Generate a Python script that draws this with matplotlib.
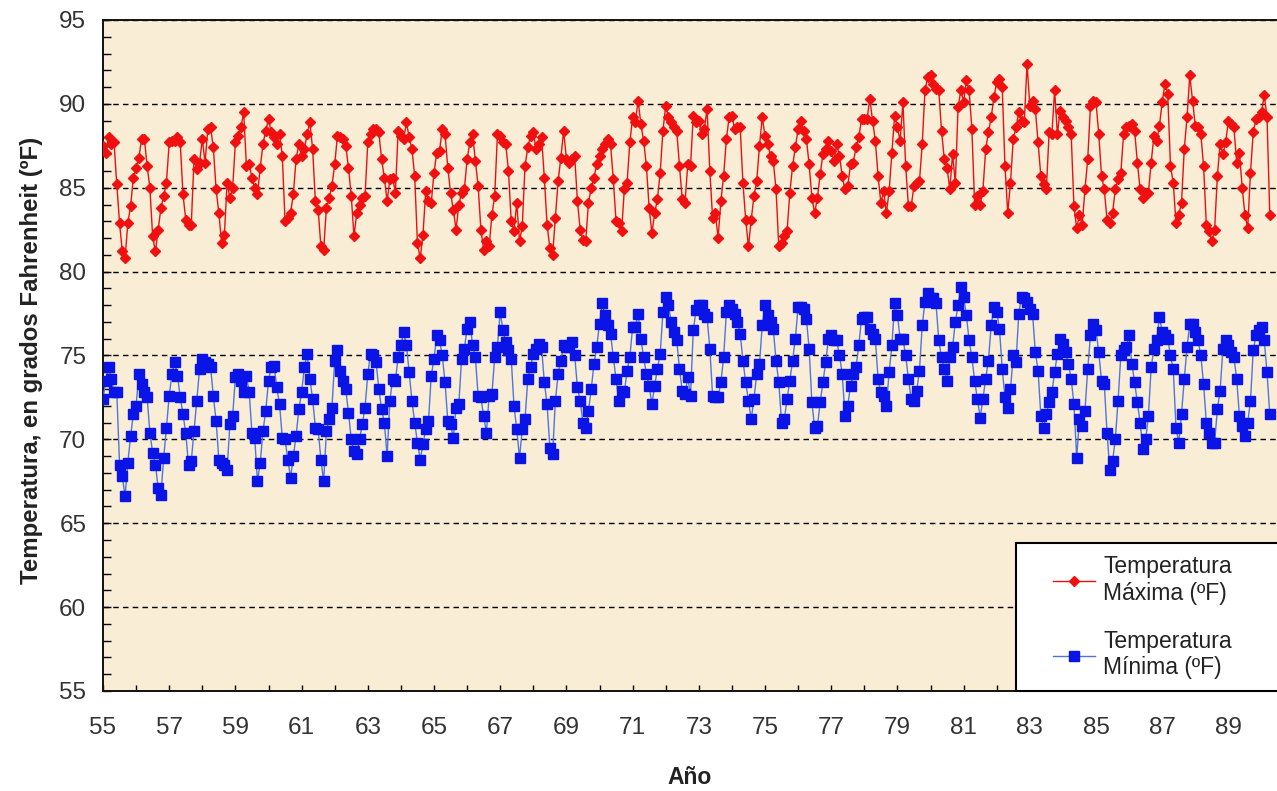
import numpy as np
import matplotlib
matplotlib.use('Agg')
import matplotlib.pyplot as plt
from matplotlib.ticker import MultipleLocator
from matplotlib.patches import Rectangle

plt.rcParams['font.family'] = ['Liberation Sans', 'DejaVu Sans']

# Temperaturas medias mensuales desde enero de 1955 (una fila por año)
t_max = [
    87.5, 87.1, 88.0, 87.6, 87.7, 85.2, 82.9, 81.2, 80.8, 82.9, 83.9, 85.6,
    86.2, 86.8, 87.9, 87.9, 86.3, 85.0, 82.1, 81.2, 82.5, 83.8, 84.5, 85.3,
    87.7, 87.8, 87.8, 88.0, 87.7, 84.6, 83.1, 82.8, 82.8, 86.7, 86.1, 86.5,
    87.9, 86.5, 88.5, 88.6, 87.4, 84.9, 83.5, 81.7, 82.2, 85.3, 84.4, 85.0,
    87.7, 88.1, 88.6, 89.5, 86.3, 86.4, 85.6, 85.0, 84.6, 86.2, 87.6, 88.4,
    89.1, 88.3, 88.0, 87.6, 88.2, 86.9, 83.0, 83.2, 83.5, 84.6, 86.7, 87.6,
    86.9, 87.3, 88.2, 88.9, 87.3, 84.2, 83.7, 81.5, 81.3, 83.8, 84.4, 85.1,
    86.4, 88.1, 88.0, 87.9, 87.5, 86.2, 84.5, 82.1, 83.5, 84.0, 84.4, 84.5,
    87.7, 88.2, 88.5, 88.5, 88.3, 86.7, 85.6, 84.2, 85.5, 85.6, 84.7, 88.4,
    88.1, 87.9, 88.9, 88.0, 87.3, 85.7, 81.7, 80.8, 82.2, 84.8, 84.2, 84.1,
    85.9, 87.1, 87.2, 88.5, 88.2, 86.2, 84.7, 83.7, 82.5, 84.0, 84.7, 84.9,
    86.7, 87.7, 88.2, 86.6, 85.1, 82.5, 81.3, 81.8, 81.5, 83.4, 84.5, 88.2,
    88.1, 87.7, 87.6, 86.0, 83.0, 82.4, 84.1, 81.8, 82.7, 86.3, 87.4, 88.1,
    88.3, 87.3, 87.6, 88.0, 85.6, 82.8, 81.4, 81.0, 83.2, 85.4, 86.8, 88.4,
    86.7, 86.5, 86.7, 86.9, 84.2, 82.5, 81.9, 81.8, 84.1, 85.0, 85.6, 86.4,
    86.9, 87.3, 87.6, 87.9, 87.6, 85.5, 83.0, 82.9, 82.4, 84.9, 85.3, 87.7,
    89.2, 88.9, 90.2, 88.8, 87.8, 86.3, 83.8, 82.3, 83.5, 84.3, 85.9, 88.4,
    89.9, 89.2, 88.9, 88.6, 88.4, 86.3, 84.3, 84.1, 86.4, 86.3, 89.3, 88.9,
    89.0, 88.2, 88.5, 89.7, 86.0, 83.2, 83.5, 82.0, 84.2, 85.7, 87.9, 89.2,
    89.3, 88.5, 88.6, 88.6, 85.3, 83.1, 81.5, 83.1, 84.5, 85.4, 87.5, 89.2,
    88.1, 87.6, 86.9, 86.6, 84.9, 81.5, 81.7, 82.1, 82.4, 84.7, 86.3, 87.4,
    88.5, 89.0, 88.4, 87.9, 86.4, 84.4, 83.5, 84.4, 85.8, 87.0, 87.3, 87.8,
    87.2, 86.6, 87.6, 86.9, 85.7, 84.9, 85.1, 86.4, 86.5, 87.4, 88.0, 89.1,
    89.1, 89.1, 90.3, 89.0, 87.8, 85.7, 84.1, 84.8, 83.5, 84.8, 87.1, 89.3,
    88.6, 87.8, 90.1, 86.3, 83.9, 83.9, 85.1, 85.3, 85.4, 87.6, 90.8, 91.6,
    91.7, 91.2, 90.9, 90.8, 88.4, 86.7, 86.2, 84.9, 87.0, 85.3, 89.8, 90.8,
    90.1, 91.4, 90.8, 88.5, 84.0, 84.5, 84.0, 84.8, 87.3, 88.3, 89.2, 90.4,
    91.3, 91.5, 91.0, 86.3, 83.5, 85.3, 87.9, 88.6, 89.5, 89.0, 88.9, 92.4,
    89.9, 90.2, 89.7, 87.7, 85.7, 85.2, 84.9, 88.3, 88.2, 90.8, 88.2, 89.6,
    89.2, 89.0, 88.6, 88.2, 83.9, 82.6, 83.4, 82.8, 84.9, 86.7, 89.9, 90.2,
    90.1, 88.2, 85.7, 84.9, 83.1, 82.9, 83.5, 84.9, 85.5, 85.9, 88.2, 88.6,
    88.7, 88.8, 88.4, 86.5, 84.9, 84.4, 84.7, 84.7, 86.5, 88.1, 87.8, 88.7,
    90.1, 91.2, 90.6, 86.3, 85.3, 82.9, 83.4, 84.1, 87.3, 89.2, 91.7, 90.2,
    88.7, 88.6, 88.2, 86.3, 82.8, 82.4, 81.8, 82.5, 85.7, 87.6, 87.0, 87.7,
    89.0, 88.8, 88.6, 86.5, 87.1, 85.0, 83.4, 82.6, 85.9, 88.3, 89.1, 89.2,
    89.5, 90.5, 89.2, 83.4,
]

t_min = [
    72.4, 73.5, 74.3, 73.6, 72.8, 72.8, 68.5, 67.8, 66.6, 68.6, 70.2, 71.5,
    72.0, 73.9, 73.3, 72.8, 72.5, 70.4, 69.2, 68.5, 67.1, 66.7, 68.9, 70.7,
    72.6, 73.9, 74.6, 73.8, 72.5, 71.5, 70.4, 68.5, 68.7, 70.5, 72.3, 74.2,
    74.8, 74.6, 74.5, 74.3, 72.6, 71.1, 68.8, 68.6, 68.5, 68.2, 70.9, 71.4,
    73.7, 73.9, 73.5, 72.8, 73.8, 72.8, 70.4, 70.1, 67.5, 68.6, 70.5, 71.7,
    73.5, 74.3, 74.4, 73.1, 72.1, 70.1, 70.0, 68.8, 67.7, 69.0, 70.2, 71.8,
    72.8, 74.3, 75.1, 73.6, 72.4, 70.7, 70.6, 68.8, 67.5, 70.5, 71.2, 71.9,
    74.7, 75.3, 74.1, 73.5, 73.0, 71.6, 70.0, 69.3, 69.1, 70.0, 70.9, 71.9,
    73.9, 75.1, 75.0, 74.6, 73.0, 71.8, 71.0, 69.0, 72.3, 73.6, 73.5, 74.9,
    75.6, 76.4, 75.6, 74.0, 72.3, 71.0, 69.8, 68.8, 69.7, 70.6, 71.1, 73.8,
    74.8, 76.2, 75.9, 75.0, 73.4, 71.1, 70.9, 70.1, 71.9, 72.1, 74.8, 75.4,
    76.6, 77.0, 75.6, 74.9, 72.6, 72.5, 71.4, 70.4, 72.6, 72.7, 74.9, 75.5,
    77.6, 76.5, 75.8, 75.3, 74.8, 72.0, 70.6, 68.9, 70.6, 71.2, 73.6, 74.3,
    75.1, 75.4, 75.7, 75.5, 73.4, 72.1, 69.5, 69.1, 72.3, 73.9, 74.7, 75.6,
    75.5, 75.5, 75.8, 75.0, 73.1, 72.3, 71.0, 70.7, 71.7, 73.0, 74.5, 75.5,
    76.9, 78.1, 77.4, 76.8, 76.3, 74.9, 73.6, 72.3, 72.9, 72.8, 74.1, 74.9,
    76.7, 76.7, 77.5, 76.0, 74.9, 73.9, 73.2, 72.1, 73.2, 74.2, 75.1, 77.6,
    78.5, 78.0, 77.0, 76.4, 75.9, 74.2, 72.9, 72.7, 73.7, 72.6, 76.5, 77.7,
    78.0, 78.0, 77.5, 77.3, 75.4, 72.6, 72.5, 72.5, 73.4, 74.9, 77.6, 78.0,
    77.8, 77.5, 77.0, 76.3, 74.7, 73.4, 72.3, 71.2, 72.4, 73.9, 74.5, 76.8,
    78.0, 77.4, 77.0, 76.6, 74.7, 73.4, 71.0, 71.2, 72.4, 73.5, 74.7, 76.0,
    77.9, 77.9, 77.8, 77.2, 75.4, 72.2, 70.7, 70.8, 72.2, 73.4, 74.6, 76.0,
    76.2, 75.9, 75.9, 75.0, 73.9, 71.4, 72.0, 73.2, 73.9, 74.3, 75.6, 77.2,
    77.3, 77.3, 76.6, 76.3, 76.0, 73.6, 72.8, 72.6, 72.0, 74.0, 75.6, 78.1,
    77.4, 76.0, 76.0, 75.0, 73.6, 72.4, 72.3, 72.9, 74.1, 76.8, 78.2, 78.7,
    78.4, 78.4, 78.1, 75.9, 74.9, 74.2, 73.5, 74.9, 75.5, 77.0, 78.0, 79.1,
    78.5, 77.4, 75.9, 74.9, 73.5, 72.4, 71.3, 72.4, 73.6, 74.7, 76.8, 77.9,
    77.6, 76.6, 74.2, 72.5, 71.9, 73.0, 75.0, 74.6, 77.5, 78.5, 78.4, 78.2,
    77.8, 77.5, 75.2, 74.1, 71.4, 70.7, 71.5, 72.2, 72.8, 74.0, 75.1, 76.0,
    75.7, 75.2, 74.5, 73.6, 72.1, 68.9, 71.2, 70.8, 71.7, 74.2, 76.2, 76.9,
    76.5, 75.2, 73.5, 73.3, 70.4, 68.2, 68.7, 70.0, 72.3, 75.0, 75.3, 75.5,
    76.2, 74.5, 73.4, 72.2, 71.0, 69.4, 70.0, 71.4, 74.3, 75.4, 75.9, 77.3,
    76.4, 76.2, 76.0, 75.0, 74.2, 70.7, 69.8, 71.5, 73.6, 75.5, 76.9, 76.9,
    76.4, 75.9, 75.0, 73.3, 71.0, 70.4, 69.8, 69.8, 71.8, 72.9, 75.4, 75.9,
    75.6, 75.2, 74.9, 73.6, 71.4, 70.8, 70.2, 71.0, 72.3, 75.3, 76.2, 76.5,
    76.7, 75.9, 74.0, 71.5,
]

anio_inicio = 55          # años de dos cifras, 55 = 1955
anios_marcados = list(range(55, 91, 2))
temp_marcadas = list(range(55, 96, 5))

etiqueta_max = 'Temperatura\nMáxima (ºF)'
etiqueta_min = 'Temperatura\nMínima (ºF)'

x = anio_inicio + np.arange(len(t_max)) / 12.0

W, H = 1277, 791
fig = plt.figure(figsize=(W / 100, H / 100), dpi=100)
fig.patch.set_facecolor('white')

# el área de trazado llega hasta el borde derecho de la figura
izq, der, arr, aba = 103, 1277, 20, 691
ax = fig.add_axes([izq / W, 1 - aba / H, (der - izq) / W, (aba - arr) / H])
ax.set_facecolor('#f9edd6')

px_por_anio = 33.1
ax.set_xlim(anio_inicio, anio_inicio + (der - izq) / px_por_anio)
ax.set_ylim(55, 95)

ax.plot(x, t_max, color='#e81010', lw=1.0, marker='D', ms=5.2,
        mfc='#f01010', mec='#f01010', label=etiqueta_max, zorder=3)
ax.plot(x, t_min, color='#4f74e0', lw=1.0, marker='s', ms=6.8,
        mfc='#0a14e6', mec='#0a14e6', label=etiqueta_min, zorder=3)

ax.set_xticks(anios_marcados)
ax.set_xticklabels([str(a) for a in anios_marcados])
ax.xaxis.set_minor_locator(MultipleLocator(1))
ax.set_yticks(temp_marcadas)
ax.yaxis.set_minor_locator(MultipleLocator(1))

ax.yaxis.grid(True, which='major', color='black', linestyle=(0, (4, 3)), linewidth=1.0)
ax.set_axisbelow(True)

ax.tick_params(axis='y', which='both', direction='in', length=6, width=1.0,
               pad=12, labelsize=17.5, labelcolor='#333333')
ax.tick_params(axis='x', which='both', direction='in', length=4, width=1.0,
               pad=19, labelsize=17.5, labelcolor='#333333')

for lado in ['left', 'bottom', 'top']:
    ax.spines[lado].set_linewidth(1.4)
    ax.spines[lado].set_color('#111111')
ax.spines['right'].set_visible(False)

# recuadro blanco de la leyenda (queda cortado por el borde)
ax.add_patch(Rectangle(((1016 - izq) / (der - izq), 0), 0.4, (aba - 543) / (aba - arr),
                       transform=ax.transAxes, facecolor='white', edgecolor='black',
                       linewidth=1.5, zorder=4, clip_on=False))
leg = ax.legend(loc='upper left', bbox_to_anchor=((1053 - izq) / (der - izq), (aba - 555) / (aba - arr)),
                frameon=False, borderpad=0, borderaxespad=0, fontsize=16.5,
                handlelength=1.85, handletextpad=0.35, labelspacing=1.1)
leg.set_zorder(5)
for t in leg.get_texts():
    t.set_linespacing(1.2)
    t.set_color('#222222')

fig.text(32 / W, 1 - 360 / H, 'Temperatura, en grados Fahrenheit (ºF)', rotation=90,
         ha='center', va='center', fontsize=17.3, fontweight='bold', color='#222222')
fig.text(690 / W, 1 - 778 / H, 'Año', ha='center', va='center',
         fontsize=16.5, fontweight='bold', color='#222222')

fig.savefig('out.png', dpi=100)
